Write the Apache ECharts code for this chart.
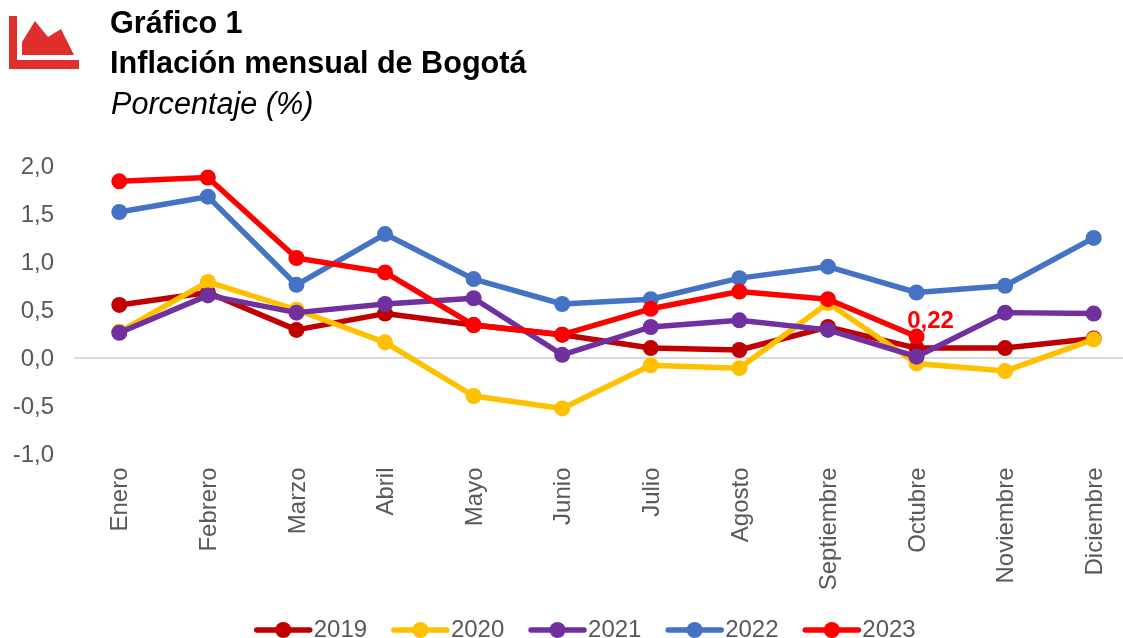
<!DOCTYPE html>
<html><head><meta charset="utf-8">
<style>html,body{margin:0;padding:0;background:#fff}#c{width:1123px;height:638px}</style>
<script src="https://cdn.jsdelivr.net/npm/echarts@6/dist/echarts.min.js"></script>
</head><body><div id="c"></div>
<script>
const months = ['Enero','Febrero','Marzo','Abril','Mayo','Junio','Julio','Agosto','Septiembre','Octubre','Noviembre','Diciembre'];
const v2019 = [0.55,0.68,0.29,0.46,0.34,0.24,0.10,0.08,0.32,0.10,0.10,0.20];
const v2020 = [0.27,0.79,0.50,0.16,-0.40,-0.53,-0.08,-0.11,0.57,-0.06,-0.14,0.19];
const v2021 = [0.26,0.65,0.47,0.56,0.62,0.03,0.32,0.39,0.29,0.01,0.47,0.46];
const v2022 = [1.52,1.68,0.76,1.29,0.82,0.56,0.61,0.83,0.95,0.68,0.75,1.25];
const v2023 = [1.84,1.88,1.04,0.89,0.34,0.24,0.51,0.69,0.61,0.22,null,null];
const names = ['2019','2020','2021','2022','2023'];
const colors = ['#C00000','#FFC000','#7030A0','#4472C4','#FF0000'];
const values = [v2019,v2020,v2021,v2022,v2023];
const FONT = '"Liberation Sans", Arial, sans-serif';
const chart = echarts.init(document.getElementById('c'), null, {renderer:'canvas'});
const txt = (x,y,t,size,weight,style) => ({type:'text',left:x,top:y,style:{text:t,font:`${style||'normal'} ${weight||'normal'} ${size}px ${FONT}`,fill:'#000'}});
const tickRich = {a:{color:'#595959',fontFamily:FONT,fontSize:24,padding:[3,0,0,0]}};
chart.setOption({
  animation:false,
  backgroundColor:'#fff',
  color:colors,
  grid:{left:75,width:1063,top:166,height:287.5,outerBoundsMode:'none'},
  xAxis:{type:'category',data:months,boundaryGap:true,
    axisTick:{show:false},
    axisLine:{onZero:true,lineStyle:{color:'#D9D9D9',width:2}},
    axisLabel:{rotate:90,interval:0,color:'#595959',fontFamily:FONT,fontSize:24,margin:14,position:'bottom',formatter:v=>'{a|'+v+'}',rich:tickRich}},
  yAxis:{type:'value',min:-1,max:2,interval:0.5,splitLine:{show:false},axisLine:{show:false},axisTick:{show:false},
    axisLabel:{color:'#595959',fontFamily:FONT,fontSize:24,margin:21,formatter:v=>'{a|'+v.toFixed(1).replace('.',',')+'}',rich:tickRich}},
  legend:{data:names,left:249,top:613,itemWidth:53,itemHeight:20,itemGap:24,
    lineStyle:{width:5.5,cap:'round'},
    textStyle:{color:'#595959',fontFamily:FONT,fontSize:24,padding:[0,0,0,-1]}},
  series:names.map((n,i)=>({
    name:n,type:'line',data:values[i].map((y,j)=> (i===4&&j===9)?{value:y,label:{show:true,position:'top',distance:-3,offset:[14,2],formatter:'0,22',color:'#FF0000',fontWeight:'bold',fontFamily:FONT,fontSize:24}}:y),
    symbol:'circle',symbolSize:16,showSymbol:true,
    lineStyle:{width:5.5,color:colors[i],cap:'round',join:'round'},
    itemStyle:{color:colors[i]},z:2+i,connectNulls:false
  })),
  graphic:[
    {type:'polygon',shape:{points:[[9,16],[17,16],[17,60],[79,60],[79,69],[9,69]]},style:{fill:'#DF2F2C'}},
    {type:'polygon',shape:{points:[[22,42],[35,21],[48,37],[61,29],[74,55],[22,55]]},style:{fill:'#DF2F2C'}},
    txt(110,9,'Gráfico 1',30.6,'bold'),
    txt(110,49,'Inflación mensual de Bogotá',30.6,'bold'),
    txt(111,90,'Porcentaje (%)',30.6,'normal','italic')
  ]
});
</script></body></html>
